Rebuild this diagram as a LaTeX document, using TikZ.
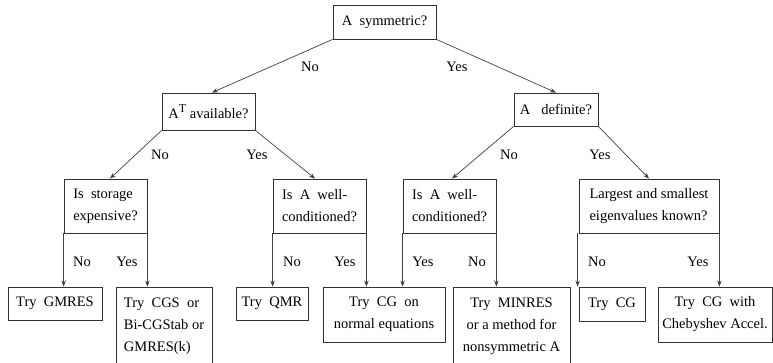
\documentclass[tikz,border=0pt]{standalone}
\usepackage{fontspec}
\setmainfont{Liberation Serif}
\usetikzlibrary{arrows.meta,calc}
\begin{document}
\begin{tikzpicture}[x=1pt,y=-1pt,
  every node/.style={font=\fontsize{14.5}{22}\selectfont, inner sep=0pt},
  box/.style={draw=black!80, line width=0.8pt, align=center},
  qbox/.style={box, align=left},
  lbl/.style={},
  link/.style={draw=black!75, line width=0.7pt, -{Stealth[length=6pt,width=4.5pt]}}]
\useasboundingbox (0,0) rectangle (773,363);

% decision boxes
\node[box, minimum width=103pt, minimum height=34pt] (sym) at (384.5,22) {A\ \ symmetric?};
\node[box, minimum width=93pt, minimum height=37pt] (at) at (208.5,111.5)
  {A\raisebox{6pt}{\fontsize{12}{12}\selectfont T}\ available?};
\node[box, minimum width=84pt, minimum height=33pt] (def) at (556,109.5) {A\ \ \ definite?};
\node[qbox, minimum width=83pt, minimum height=54pt] (stor) at (105.5,206) {Is\ \ storage\\expensive?};
\node[qbox, minimum width=93pt, minimum height=54pt] (wc1) at (319.5,206) {Is\ \ A\ \ well-\\conditioned?};
\node[qbox, minimum width=93pt, minimum height=54pt] (wc2) at (449.5,206) {Is\ \ A\ \ well-\\conditioned?};
\node[qbox, minimum width=140pt, minimum height=54pt] (eig) at (649,206) {Largest and smallest\\eigenvalues known?};

% recommended methods
\node[box, minimum width=94pt, minimum height=33pt] (gm) at (55,303.5) {Try\ \ GMRES};
\node[qbox, minimum width=96pt, minimum height=78pt] (cgs) at (164,326) {Try\ \ CGS\ \ or\\Bi-CGStab or\\GMRES(k)};
\node[box, minimum width=72pt, minimum height=33pt] (qmr) at (272,303.5) {Try\ \ QMR};
\node[box, minimum width=122pt, minimum height=55pt] (cgn) at (384,314.5) {Try\ \ CG\ \ on\\normal equations};
\node[box, minimum width=117pt, minimum height=78pt] (minres) at (511.5,326) {Try\ \ MINRES\\or a method for\\nonsymmetric A};
\node[box, minimum width=66pt, minimum height=34pt] (cg) at (612,304) {Try\ \ CG};
\node[box, minimum width=114pt, minimum height=55pt] (cheb) at (715,314.5) {Try\ \ CG\ \ with\\Chebyshev Accel.};

% connectors
\draw[link] (sym.south west) -- ($(at.north)+(3.5,0)$);
\draw[link] (sym.south east) -- (def.north);
\draw[link] (at.south west) -- ($(stor.north)+(4.5,0)$);
\draw[link] (at.south east) -- ($(wc1.north)+(-4.5,0)$);
\draw[link] (def.south west) -- ($(wc2.north)+(2.5,0)$);
\draw[link] (def.south east) -- (eig.north);
\draw[link] (stor.south west) -- (stor.south west |- gm.north);
\draw[link] (stor.south east) -- (stor.south east |- cgs.north);
\draw[link] (wc1.south west) -- (wc1.south west |- qmr.north);
\draw[link] (wc1.south east) -- (wc1.south east |- cgn.north);
\draw[link] (wc2.south west) -- (wc2.south west |- cgn.north);
\draw[link] (wc2.south east) -- (wc2.south east |- minres.north);
\draw[link] ($(eig.south west)+(-1,0)$) -- ($(eig.south west |- cg.north)+(-1,0)$);
\draw[link] (eig.south east) -- (eig.south east |- cheb.north);

% branch labels
\node[lbl] (l1) at (310,67) {No};
\node[lbl] (l2) at (457,67) {Yes};
\node[lbl] (l3) at (160,155) {No};
\node[lbl] (l4) at (257,155) {Yes};
\node[lbl] (l5) at (509,155) {No};
\node[lbl] (l6) at (600,155) {Yes};
\node[lbl] (l7) at (82,262) {No};
\node[lbl] (l8) at (127,262) {Yes};
\node[lbl] (l9) at (292,262) {No};
\node[lbl] (l10) at (345,262) {Yes};
\node[lbl] (l11) at (423,262) {Yes};
\node[lbl] (l12) at (477,262) {No};
\node[lbl] (l13) at (597,262) {No};
\node[lbl] (l14) at (698,262) {Yes};
\end{tikzpicture}
\end{document}
